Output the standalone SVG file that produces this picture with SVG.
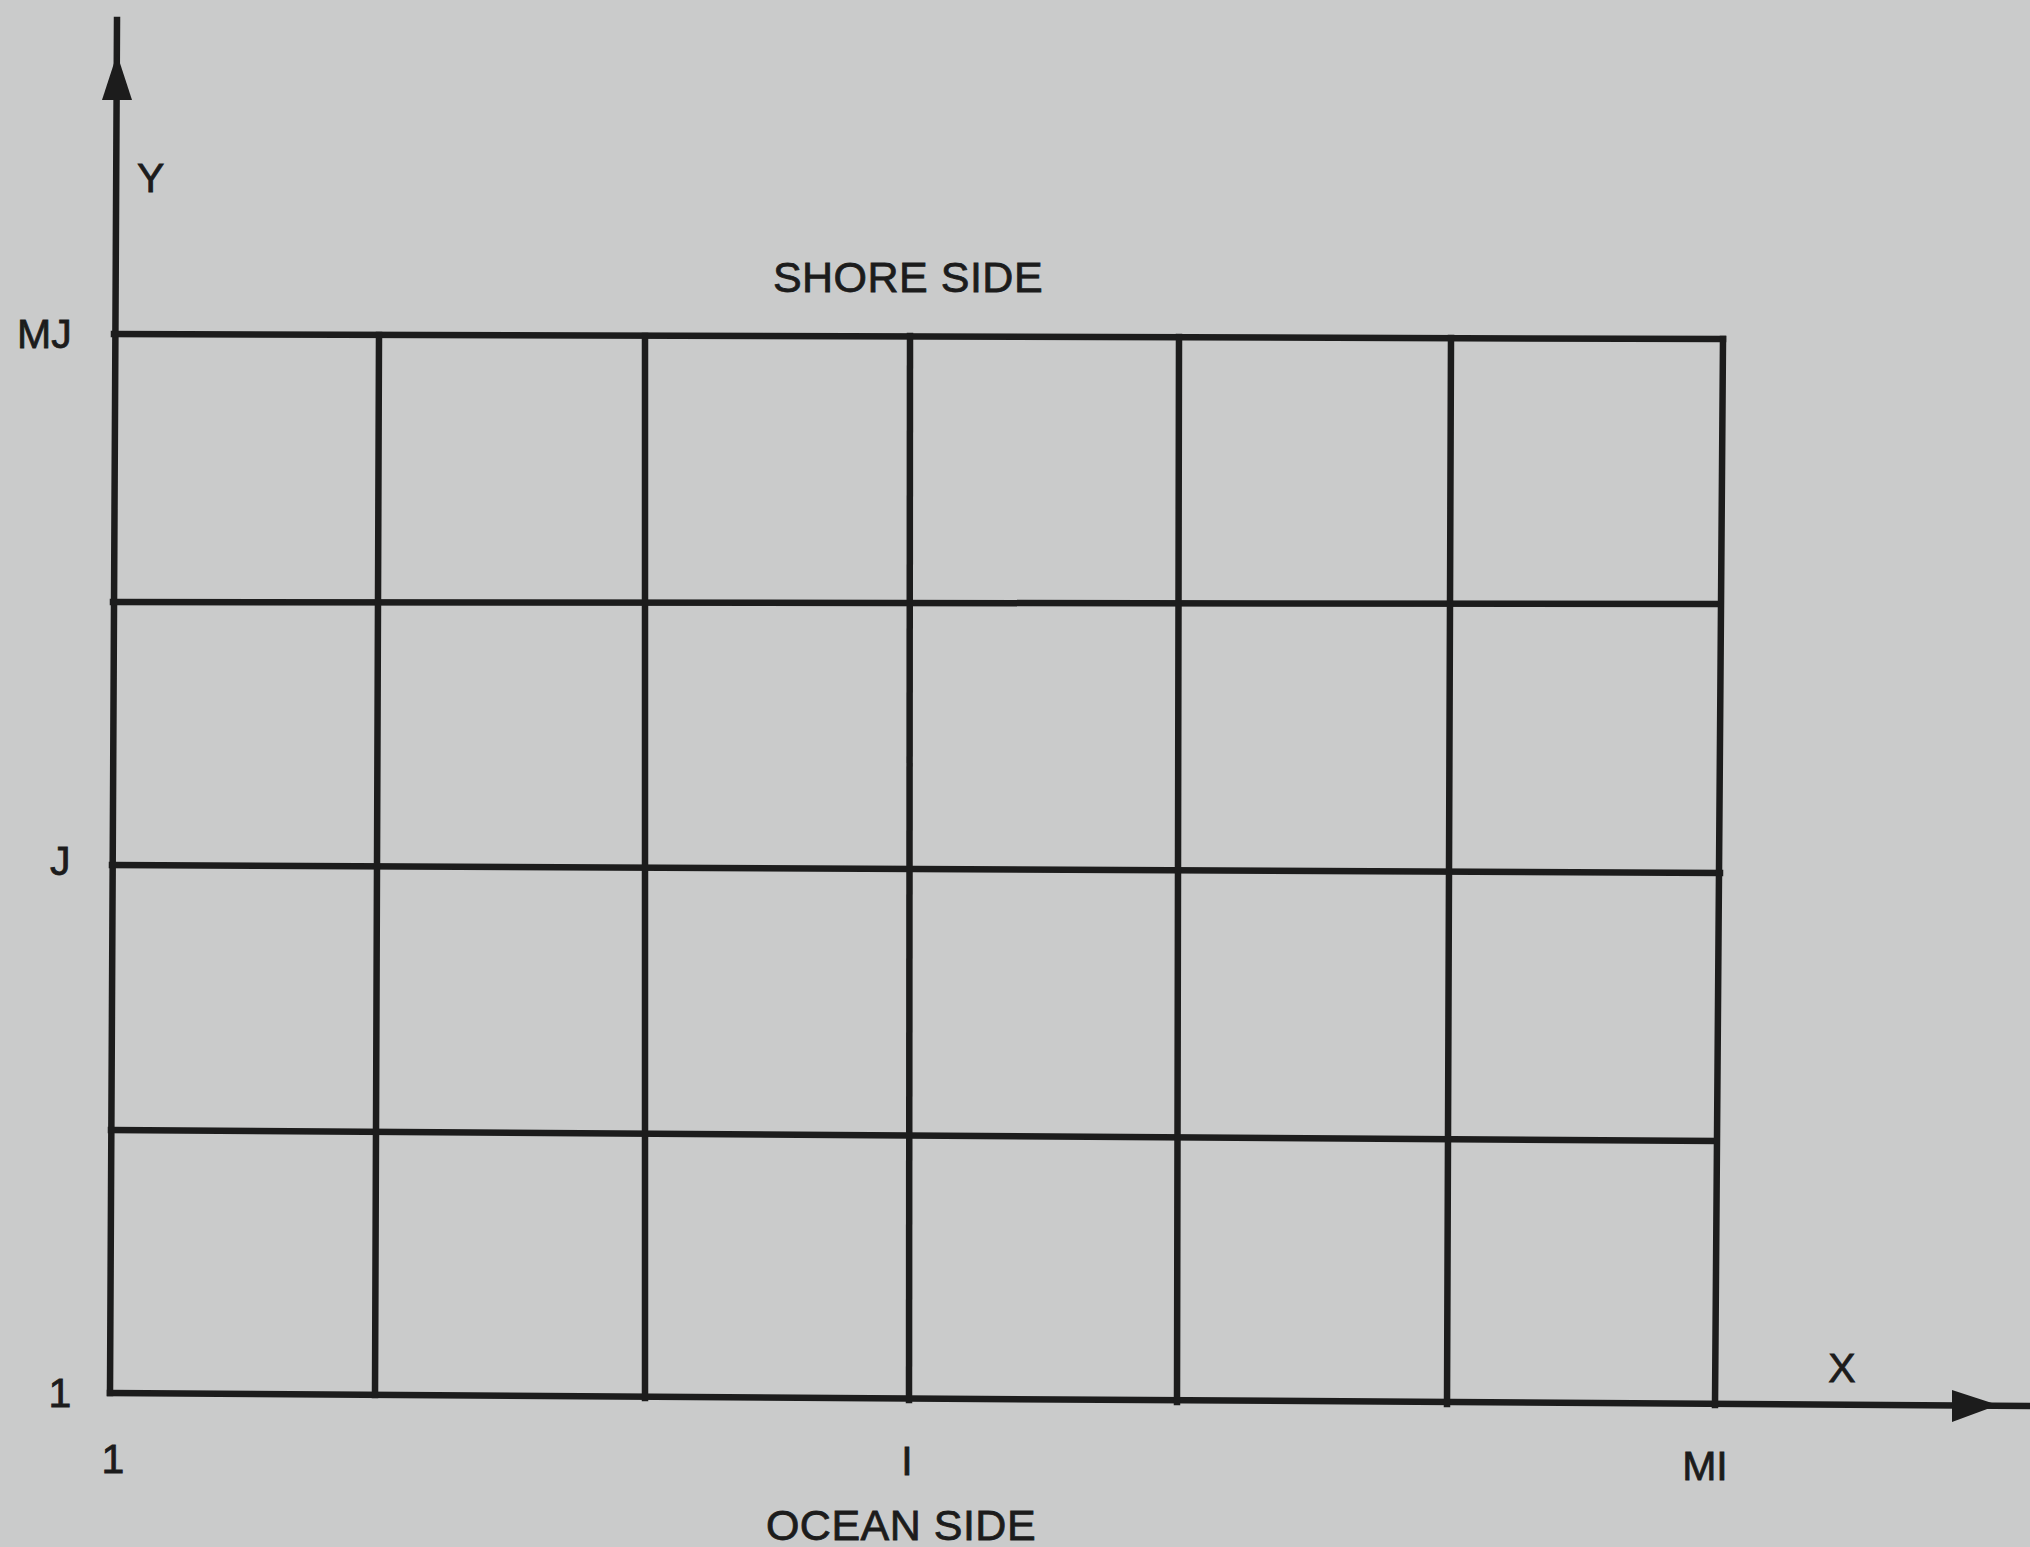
<svg xmlns="http://www.w3.org/2000/svg" width="2030" height="1547" viewBox="0 0 2030 1547">
  <style>
    .ln { stroke: #1c1c1c; stroke-width: 6.5; fill: none; stroke-linecap: square; }
    .lbl { font-family: "Liberation Sans", Arial, sans-serif; font-size: 41px; fill: #1c1c1c; stroke: #1c1c1c; stroke-width: 0.8px; }
    .side { font-family: "Liberation Sans", Arial, sans-serif; font-size: 43px; fill: #1c1c1c; stroke: #1c1c1c; stroke-width: 0.8px; text-anchor: middle; letter-spacing: 0.5px; }
    .ah { fill: #1c1c1c; }
  </style>
  <rect x="0" y="0" width="2030" height="1547" fill="#cacbcb"/>

  <g id="axes">
    <line class="ln" x1="117" y1="20" x2="110" y2="1393"/>
    <polygon id="y-arrow" class="ah" points="117,54 102,100 132,100"/>
    <line class="ln" x1="110" y1="1393" x2="2030" y2="1406"/>
    <polygon id="x-arrow" class="ah" points="1998,1405 1952,1390 1952,1422"/>
  </g>

  <g id="grid">
    <line class="ln" x1="114" y1="334" x2="1723" y2="339"/>
    <line class="ln" x1="113" y1="602" x2="1720" y2="604"/>
    <line class="ln" x1="112" y1="865" x2="1720" y2="873"/>
    <line class="ln" x1="111" y1="1130" x2="1716" y2="1141"/>
    <line class="ln" x1="379" y1="335" x2="375" y2="1395"/>
    <line class="ln" x1="645" y1="336" x2="645" y2="1398"/>
    <line class="ln" x1="910" y1="336" x2="909" y2="1400"/>
    <line class="ln" x1="1179" y1="337" x2="1177" y2="1402"/>
    <line class="ln" x1="1451" y1="338" x2="1447" y2="1404"/>
    <line class="ln" x1="1723" y1="339" x2="1715" y2="1405"/>
  </g>

  <g id="labels">
    <text class="lbl" x="137" y="192">Y</text>
    <text class="lbl" x="1842" y="1382" text-anchor="middle">X</text>
    <text class="lbl" x="17" y="348">MJ</text>
    <text class="lbl" x="50" y="875">J</text>
    <text class="lbl" x="60" y="1407" text-anchor="middle">1</text>
    <text class="lbl" x="113" y="1473" text-anchor="middle">1</text>
    <text class="lbl" x="907" y="1475" text-anchor="middle">I</text>
    <text class="lbl" x="1705" y="1480" text-anchor="middle">MI</text>
    <text class="side" x="908" y="292">SHORE SIDE</text>
    <text class="side" x="901" y="1540">OCEAN SIDE</text>
  </g>
</svg>
